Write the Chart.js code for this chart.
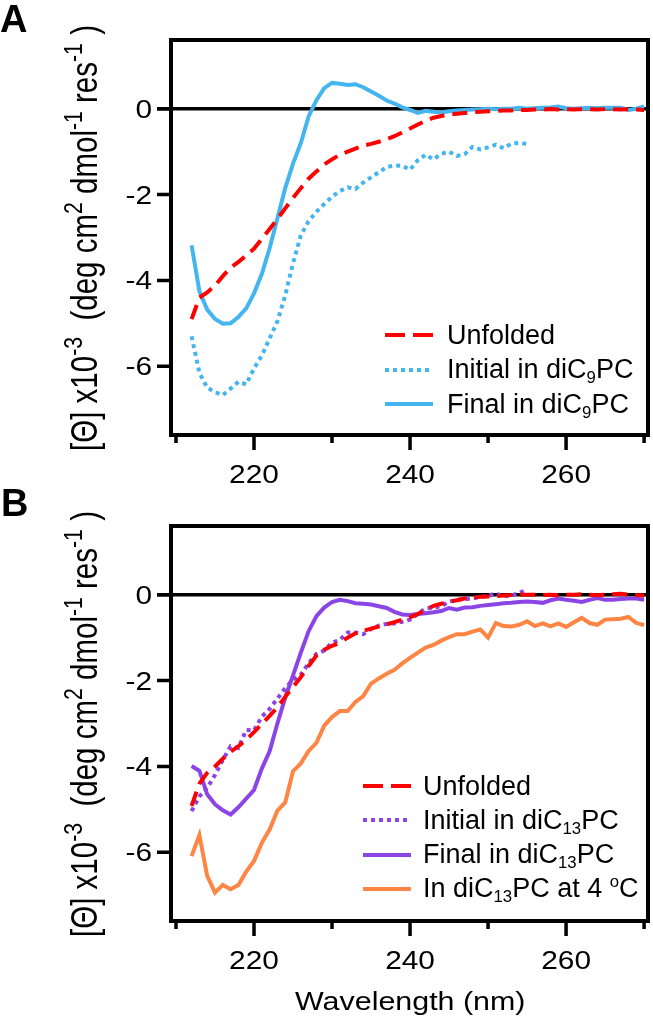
<!DOCTYPE html>
<html>
<head>
<meta charset="utf-8">
<script src="https://cdn.jsdelivr.net/npm/chart.js@4/dist/chart.umd.min.js"></script>
<style>
  body { margin: 0; background: #fff; }
  #wrap { position: relative; width: 653px; height: 1020px; overflow: hidden;
          font-family: Arial, "Liberation Sans", sans-serif; color: #000; }
  canvas { position: absolute; left: 0; top: 0; }
  .panel { position: absolute; font-weight: bold; font-size: 38px; line-height: 1; }
  .ytitle { position: absolute; white-space: nowrap; font-size: 29.5px; line-height: 1; }
  .xtitle { position: absolute; white-space: nowrap; font-size: 26px; line-height: 1; transform-origin: left top; }
  .row { position: absolute; height: 34px; display: flex; align-items: center; white-space: nowrap; font-size: 27px; }
  sub { font-size: 62%; vertical-align: -0.3em; line-height: 0; }
  sup { font-size: 62%; vertical-align: 0.6em; line-height: 0; }
  .ytitle sup { font-size: 72%; vertical-align: 0.55em; }
</style>
</head>
<body>
<div id="wrap">
  <canvas id="chartA" width="653" height="1020"></canvas>
  <canvas id="chartB" width="653" height="1020"></canvas>
  <div class="panel" style="left:0px;top:0px">A</div>
  <div class="panel" style="left:1px;top:484px">B</div>
  <div class="xtitle" style="left:295px;top:988px;transform:scaleX(1.17)">Wavelength (nm)</div>
</div>
<script>
// wavelength grid (nm)
const wavelength = [212, 213, 214, 215, 216, 217, 218, 219, 220, 221, 222, 223, 224, 225, 226, 227, 228, 229, 230,
  231, 232, 233, 234, 235, 236, 237, 238, 239, 240, 241, 242, 243, 244, 245, 246, 247, 248, 249, 250,
  251, 252, 253, 254, 255, 256, 257, 258, 259, 260, 261, 262, 263, 264, 265, 266, 267, 268, 269, 270];

// panel A
const unfoldedA = [-4.9, -4.4, -4.28, -4.12, -3.9, -3.7, -3.57, -3.42, -3.26, -3.03, -2.8, -2.57, -2.32, -2.08, -1.85,
  -1.63, -1.46, -1.3, -1.18, -1.07, -1.0, -0.93, -0.86, -0.82, -0.77, -0.71, -0.64, -0.55, -0.46, -0.37, -0.28,
  -0.21, -0.17, -0.14, -0.12, -0.1, -0.08, -0.07, -0.06, -0.05, -0.04, -0.04, -0.03, -0.03, -0.02, -0.02, -0.01,
  -0.02, -0.01, -0.02, -0.01, -0.01, -0.02, -0.01, -0.01, -0.02, -0.01, -0.02, -0.03];
const initialC9 = [-5.3, -6.15, -6.5, -6.6, -6.67, -6.52, -6.36, -6.42, -6.05, -5.75, -5.35, -4.95, -4.35, -3.6,
  -2.95, -2.62, -2.4, -2.22, -2.05, -1.92, -1.83, -1.87, -1.72, -1.6, -1.48, -1.36, -1.32, -1.33, -1.42, -1.2,
  -1.07, -1.18, -1.05, -1.0, -1.1, -1.06, -0.89, -0.95, -0.9, -0.84, -0.92, -0.81, -0.8, -0.82];
const finalC9 = [-3.18, -4.25, -4.68, -4.9, -5.01, -5.0, -4.85, -4.65, -4.3, -3.85, -3.25, -2.55, -1.85, -1.28, -0.8,
  -0.18, 0.2, 0.48, 0.6, 0.58, 0.55, 0.57, 0.5, 0.4, 0.3, 0.19, 0.12, 0.03, -0.03, -0.1, -0.05, -0.07, -0.09,
  -0.06, -0.04, -0.03, -0.02, -0.01, 0.0, -0.01, 0.0, 0.0, 0.02, 0.0, 0.01, 0.02, 0.03, 0.05, 0.01, 0.0, 0.01,
  0.02, 0.01, 0.02, 0.02, 0.02, -0.03, 0.0, 0.05];

// panel B
const unfoldedB = [-4.92, -4.4, -4.15, -4.0, -3.82, -3.66, -3.53, -3.38, -3.2, -3.01, -2.82, -2.62, -2.38, -2.15,
  -1.92, -1.66, -1.42, -1.28, -1.19, -1.12, -1.0, -0.9, -0.84, -0.79, -0.74, -0.69, -0.64, -0.58, -0.53, -0.45,
  -0.35, -0.26, -0.21, -0.17, -0.13, -0.09, -0.07, -0.05, -0.04, -0.03, -0.02, -0.01, 0.0, 0.0, 0.0, -0.01, 0.0,
  -0.01, 0.0, 0.0, 0.01, 0.0, -0.01, 0.0, 0.01, 0.02, 0.0, -0.01, -0.02];
const initialC13 = [-5.04, -4.7, -4.5, -4.2, -3.85, -3.53, -3.57, -3.15, -3.16, -2.84, -2.66, -2.42, -2.18, -1.98,
  -1.86, -1.6, -1.38, -1.3, -1.12, -1.05, -0.88, -0.88, -0.92, -0.8, -0.72, -0.68, -0.67, -0.63, -0.58, -0.45,
  -0.32, -0.3, -0.27, -0.16, -0.12, -0.1, -0.09, -0.05, -0.03, 0.03, -0.04, -0.02, 0.04, 0.12];
const finalC13 = [-3.99, -4.1, -4.65, -4.88, -5.02, -5.12, -4.95, -4.75, -4.55, -4.05, -3.65, -3.0, -2.4, -1.88,
  -1.35, -0.85, -0.5, -0.3, -0.17, -0.12, -0.15, -0.2, -0.21, -0.23, -0.27, -0.31, -0.4, -0.46, -0.47, -0.45,
  -0.43, -0.41, -0.38, -0.31, -0.35, -0.3, -0.29, -0.26, -0.24, -0.22, -0.2, -0.19, -0.17, -0.16, -0.17, -0.19,
  -0.13, -0.09, -0.12, -0.14, -0.17, -0.12, -0.08, -0.12, -0.12, -0.1, -0.09, -0.09, -0.12];
const coldC13 = [-6.09, -5.6, -6.55, -6.94, -6.76, -6.86, -6.76, -6.45, -6.2, -5.78, -5.47, -5.03, -4.84, -4.11,
  -3.93, -3.64, -3.45, -3.05, -2.85, -2.71, -2.71, -2.5, -2.36, -2.07, -1.95, -1.84, -1.75, -1.6, -1.47, -1.35,
  -1.23, -1.17, -1.07, -0.99, -0.92, -0.92, -0.86, -0.81, -1.0, -0.66, -0.73, -0.74, -0.7, -0.62, -0.73, -0.67,
  -0.74, -0.67, -0.75, -0.64, -0.54, -0.66, -0.7, -0.58, -0.57, -0.56, -0.52, -0.66, -0.71];

// axis ticks
const xTicks = [210, 220, 230, 240, 250, 260, 270];
const xLabels = [220, 240, 260];
const yTicks = [0, -2, -4, -6];

const namesA = ['Unfolded', 'Initial in diC<sub>9</sub>PC', 'Final in diC<sub>9</sub>PC'];
const namesB = ['Unfolded', 'Initial in diC<sub>13</sub>PC', 'Final in diC<sub>13</sub>PC',
  'In diC<sub>13</sub>PC at 4 <sup>o</sup>C'];

const RED = '#ff0000', BLUE = '#45b5ef', PURPLE = '#8b45e6', ORANGE = '#ff8545';
const DASH = [15, 8], DOT = [4, 4];

function pts(vals) {
  return vals.map((v, i) => ({ x: wavelength[i], y: v }));
}
function ds(vals, color, dash) {
  return { data: pts(vals), borderColor: color, borderDash: dash, borderWidth: 4,
           pointRadius: 0, tension: 0, fill: false, borderCapStyle: 'butt' };
}

const frame = {
  id: 'frame',
  beforeDatasetsDraw(chart) {
    const { ctx, chartArea: a, scales: { x, y } } = chart;
    const y0 = y.getPixelForValue(0);
    ctx.save();
    ctx.strokeStyle = '#000';
    ctx.lineWidth = 3.5;
    ctx.beginPath();
    ctx.moveTo(a.left - 14, y0);
    ctx.lineTo(a.right, y0);
    ctx.stroke();
    ctx.restore();
  },
  afterDatasetsDraw(chart) {
    const { ctx, chartArea: a, scales: { x, y } } = chart;
    ctx.save();
    ctx.strokeStyle = '#000';
    ctx.fillStyle = '#000';
    ctx.lineWidth = 4;
    ctx.strokeRect(a.left, a.top, a.right - a.left, a.bottom - a.top);
    ctx.lineWidth = 3.5;
    ctx.beginPath();
    xTicks.forEach(v => {
      const px = x.getPixelForValue(v);
      const len = xLabels.includes(v) ? 15 : 8;
      ctx.moveTo(px, a.bottom);
      ctx.lineTo(px, a.bottom + len);
    });
    yTicks.forEach(v => {
      const py = y.getPixelForValue(v);
      ctx.moveTo(a.left - 14, py);
      ctx.lineTo(a.left, py);
    });
    ctx.stroke();
    ctx.font = '25.5px Arial, "Liberation Sans", sans-serif';
    ctx.textBaseline = 'alphabetic';
    xLabels.forEach(v => {
      ctx.save();
      ctx.translate(x.getPixelForValue(v), a.bottom + 48);
      ctx.scale(1.17, 1);
      ctx.textAlign = 'center';
      ctx.fillText(String(v), 0, 0);
      ctx.restore();
    });
    yTicks.forEach(v => {
      ctx.save();
      ctx.translate(a.left - 19, y.getPixelForValue(v) + 9);
      ctx.scale(1.17, 1);
      ctx.textAlign = 'right';
      ctx.fillText(String(v), 0, 0);
      ctx.restore();
    });
    ctx.restore();
  }
};

function makeChart(id, datasets, top, bottom) {
  return new Chart(document.getElementById(id), {
    type: 'line',
    data: { datasets: datasets },
    options: {
      responsive: false,
      animation: false,
      devicePixelRatio: 1,
      layout: { padding: { top: top, right: 5, bottom: 1020 - bottom - 50, left: 0 } },
      plugins: { legend: { display: false }, tooltip: { enabled: false } },
      scales: {
        x: {
          type: 'linear', min: 209.36, max: 270.5,
          ticks: { display: false }, grid: { display: false }, border: { display: false },
          afterFit: s => { s.height = 50; }
        },
        y: {
          min: -7.6, max: 1.6,
          ticks: { display: false }, grid: { display: false }, border: { display: false },
          afterFit: s => { s.width = 171; }
        }
      }
    },
    plugins: [frame]
  });
}

makeChart('chartA', [
  ds(unfoldedA, RED, DASH),
  ds(initialC9, BLUE, DOT),
  ds(finalC9, BLUE, [])
], 40, 435);

makeChart('chartB', [
  ds(unfoldedB, RED, DASH),
  ds(initialC13, PURPLE, DOT),
  ds(finalC13, PURPLE, []),
  ds(coldC13, ORANGE, [])
], 526, 921);

// legends and y titles
const wrap = document.getElementById('wrap');
function legend(names, styles, lineLeft, textLeft, firstY, step) {
  names.forEach((n, i) => {
    const st = styles[i];
    const row = document.createElement('div');
    row.className = 'row';
    row.style.left = lineLeft + 'px';
    row.style.top = (firstY + i * step - 17) + 'px';
    const w = textLeft - lineLeft;
    row.innerHTML = '<svg width="' + w + '" height="10" style="flex:none">' +
      '<line x1="0" y1="5" x2="48" y2="5" stroke="' + st[0] + '" stroke-width="4" stroke-dasharray="' +
      (st[1].length ? st[1].join(' ') : 'none') + '"/></svg><span>' + n + '</span>';
    wrap.appendChild(row);
  });
}
legend(namesA, [[RED, [20, 8]], [BLUE, DOT], [BLUE, []]], 385, 447, 335, 34.5);
legend(namesB, [[RED, [20, 8]], [PURPLE, DOT], [PURPLE, []], [ORANGE, []]], 363, 423, 786, 34.3);

function ytitle(cy) {
  const d = document.createElement('div');
  d.className = 'ytitle';
  d.innerHTML = '[&Theta;] x10<sup>-3</sup>&nbsp; (deg cm<sup>2</sup> dmol<sup>-1</sup> res<sup>-1</sup> )';
  wrap.appendChild(d);
  d.style.left = 84 + 'px';
  d.style.top = cy + 'px';
  d.style.transform = 'translate(-50%,-50%) scaleX(1.25) rotate(-90deg)';
}
ytitle(238);
ytitle(724);
</script>
</body>
</html>
